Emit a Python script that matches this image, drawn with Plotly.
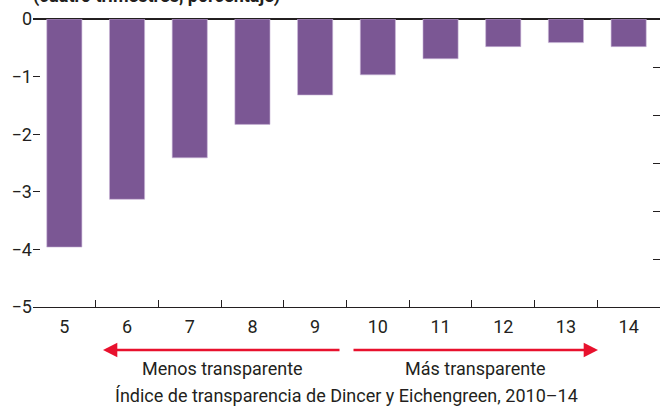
import plotly.graph_objects as go

categories = ["5", "6", "7", "8", "9", "10", "11", "12", "13", "14"]
values = [-3.96, -3.13, -2.41, -1.83, -1.32, -0.97, -0.69, -0.48, -0.41, -0.48]
y_ticks = [0, -1, -2, -3, -4, -5]
y_tick_labels = ["0", "−1", "−2", "−3", "−4", "−5"]
right_ticks = [0, -1, -2, -3, -4, -5, -6]

FONT = "Roboto, Liberation Sans, sans-serif"
BAR = "#7B5794"
RED = "#E8112D"
INK = "#231F20"

fig = go.Figure()
fig.add_trace(go.Bar(x=categories, y=values, marker=dict(color=BAR, line=dict(color="#C9B6D6", width=0.6)),
                     width=0.56, showlegend=False))
fig.add_trace(go.Scatter(x=[], y=[], yaxis="y2", showlegend=False))

fig.update_layout(
    width=663, height=412,
    margin=dict(l=33, r=3, t=19, b=105),
    paper_bgcolor="white", plot_bgcolor="white",
    font=dict(family=FONT, size=18, color=INK),
    xaxis=dict(type="category", range=[-0.5, 9.5], showgrid=False, showline=True,
               linecolor=INK, linewidth=1.2, ticks="inside", tickson="boundaries",
               ticklen=7, tickcolor=INK, tickwidth=1.2, zeroline=False,
               ticklabelstandoff=3,
               tickfont=dict(size=18, family=FONT, color=INK)),
    yaxis=dict(range=[-5, 0], tickvals=y_ticks, ticktext=y_tick_labels, showgrid=False,
               showline=False, ticks="inside", ticklen=7, tickcolor=INK, tickwidth=1.2,
               zeroline=True, zerolinecolor=INK, zerolinewidth=1.5,
               tickfont=dict(size=18, family=FONT, color=INK)),
    yaxis2=dict(overlaying="y", side="right", range=[-6, 0], tickvals=right_ticks,
                showticklabels=False, showgrid=False, showline=False, zeroline=False,
                ticks="inside", ticklen=7, tickcolor=INK, tickwidth=1.2),
)

def px_x(p):
    return (p - 33) / 627

def px_y(p):
    return (307 - p) / 288

# Arrows
fig.add_annotation(xref="paper", yref="paper", x=px_x(103), y=px_y(350), ax=341 - 103, ay=0,
                   axref="pixel", ayref="pixel", text="", showarrow=True, arrowhead=2,
                   arrowsize=1.1, arrowwidth=2.6, arrowcolor=RED)
fig.add_annotation(xref="paper", yref="paper", x=px_x(598), y=px_y(350), ax=352 - 598, ay=0,
                   axref="pixel", ayref="pixel", text="", showarrow=True, arrowhead=2,
                   arrowsize=1.1, arrowwidth=2.6, arrowcolor=RED)

fig.add_annotation(xref="paper", yref="paper", x=px_x(222), y=px_y(368), text="Menos transparente",
                   showarrow=False, font=dict(size=18, family=FONT, color=INK), xanchor="center", yanchor="middle")
fig.add_annotation(xref="paper", yref="paper", x=px_x(475), y=px_y(368), text="Más transparente",
                   showarrow=False, font=dict(size=18, family=FONT, color=INK), xanchor="center", yanchor="middle")
fig.add_annotation(xref="paper", yref="paper", x=px_x(346), y=px_y(395),
                   text="Índice de transparencia de Dincer y Eichengreen, 2010–14",
                   showarrow=False, font=dict(size=18, family=FONT, color=INK), xanchor="center", yanchor="middle")
# Title (cut off at the top edge, as in the reference)
fig.add_annotation(xref="paper", yref="paper", x=px_x(31), y=px_y(-4),
                   text="<b>(cuatro trimestres, porcentaje)</b>",
                   showarrow=False, font=dict(size=18, family=FONT, color=INK), xanchor="left", yanchor="middle")

fig.write_html("out.html", config={"displayModeBar": False},
               post_script="document.body.style.margin='0';")
